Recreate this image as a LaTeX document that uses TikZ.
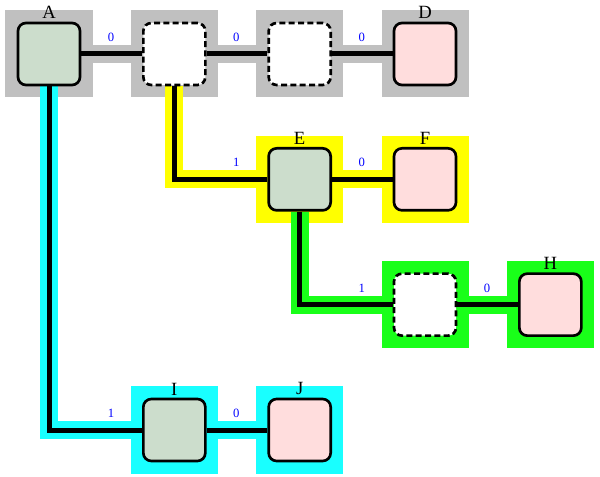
\documentclass[tikz,border=0pt]{standalone}
\usepackage{fontspec}
\setmainfont{Liberation Serif}
\usetikzlibrary{backgrounds}
\definecolor{SageBox}{RGB}{204,221,204}
\definecolor{PinkBox}{RGB}{255,221,221}
\definecolor{GrayGroup}{RGB}{192,192,192}
\definecolor{YellowGroup}{RGB}{255,255,0}
\definecolor{GreenGroup}{RGB}{25,255,25}
\definecolor{CyanGroup}{RGB}{25,255,255}

\begin{document}
\begin{tikzpicture}[x=94pt,y=-94pt,
  cell/.style={rounded corners=6pt,draw=black,line width=2pt,minimum size=46.5pt,inner sep=0pt},
  full/.style={cell,fill=SageBox},
  leaf/.style={cell,fill=PinkBox},
  hole/.style={cell,fill=white,dash pattern=on 4.5pt off 2.5pt},
  every label/.style={font=\fontsize{14}{16}\selectfont,inner sep=2pt,outer sep=0pt},
  grp/.style={fill=#1,minimum size=65.25pt,inner sep=0pt,outer sep=0pt},
  band/.style={line width=13.5pt,draw=#1},
  wire/.style={line width=3.75pt,draw=black},
  lbl/.style={pos=1,xshift=-23.25pt,yshift=12.4pt,inner sep=0pt,font=\fontsize{9.5}{11}\selectfont,text=blue}
]
\useasboundingbox (-36.75pt,40.5pt) rectangle (413.25pt,-317.25pt);
\node[full,label=above:A] (A) at (0,0) {};
\node[hole] (B) at (1,0) {};
\node[hole] (C) at (2,0) {};
\node[leaf,label=above:D] (D) at (3,0) {};
\node[full,label=above:E] (E) at (2,1) {};
\node[leaf,label=above:F] (F) at (3,1) {};
\node[hole] (G) at (3,2) {};
\node[leaf,label=above:H] (H) at (4,2) {};
\node[full,label=above:I] (I) at (1,3) {};
\node[leaf,label=above:J] (J) at (2,3) {};

\begin{pgfonlayer}{background}
\foreach \n/\c in {A/GrayGroup,B/GrayGroup,C/GrayGroup,D/GrayGroup,E/YellowGroup,F/YellowGroup,
  G/GreenGroup,H/GreenGroup,I/CyanGroup,J/CyanGroup}
  \node[grp=\c] (bg\n) at (\n) {};
\foreach \s/\t/\c in {A/B/GrayGroup,B/C/GrayGroup,C/D/GrayGroup,E/F/YellowGroup,G/H/GreenGroup,I/J/CyanGroup}
  \draw[band=\c] (\s) -- (\t);
\draw[band=CyanGroup] (A.south) |- (I.west);
\draw[band=YellowGroup] (B.south) |- (E.west);
\draw[band=GreenGroup] (E.south) |- (G.west);
\foreach \s/\t in {A/B,B/C,C/D,E/F,G/H,I/J}
  \draw[wire] (\s) -- node[lbl] {0} (\t);
\draw[wire] (A.south) |- node[lbl] {1} (I.west);
\draw[wire] (B.south) |- node[lbl] {1} (E.west);
\draw[wire] (E.south) |- node[lbl] {1} (G.west);
\end{pgfonlayer}
\end{tikzpicture}
\end{document}
